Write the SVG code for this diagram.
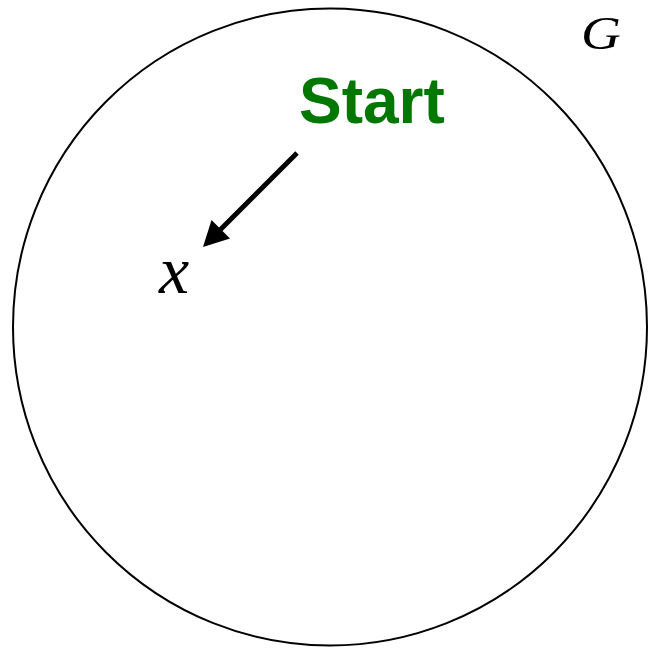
<svg xmlns="http://www.w3.org/2000/svg" width="648" height="648" viewBox="0 0 648 648">
<style>
.set{fill:none;stroke:#000;stroke-width:2}
.math{font-family:"Liberation Serif","Times New Roman",serif;font-style:italic;fill:#000}
.start{font-family:"Liberation Sans",Arial,sans-serif;font-weight:bold;fill:#007800}
.conn{stroke:#000;stroke-width:5;fill:none}
</style>
<rect width="648" height="648" fill="#fff"/>
<g id="graph-G">
<ellipse class="set" cx="330" cy="327" rx="317" ry="318.5"/>
<text class="math" x="581" y="49" font-size="46" transform="translate(581 49) scale(1.2 1) translate(-581 -49)">G</text>
</g>
<g id="start-label">
<text class="start" x="299" y="123" font-size="64">Start</text>
</g>
<g id="node-x">
<text class="math" x="159" y="293" font-size="68">x</text>
</g>
<g id="connectors">
<line class="conn" x1="297" y1="153" x2="219" y2="231"/>
<polygon points="203,247 211.5,220 230,238.5" fill="#000"/>
</g>
</svg>
